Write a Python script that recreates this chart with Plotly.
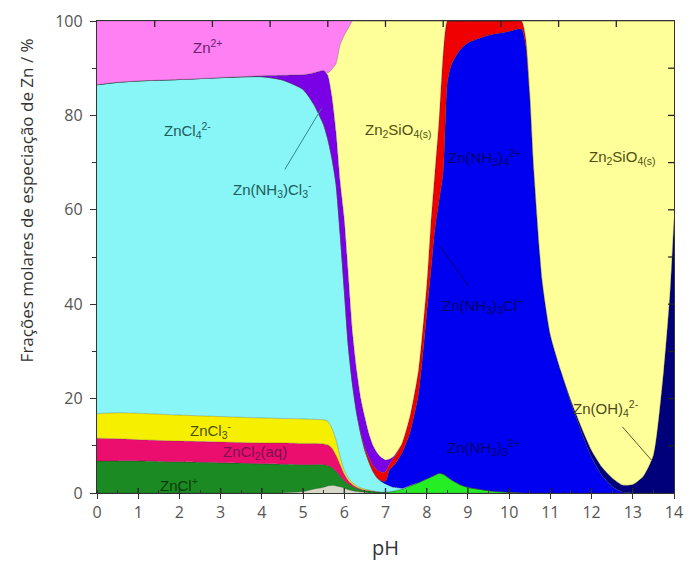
import plotly.graph_objects as go

# ---------------- data (molar fraction, %) ----------------
pH = [0, 0.5, 1, 2, 3, 4, 4.5, 5, 5.25, 5.5, 5.6, 5.7, 5.8, 5.9, 6.0, 6.1, 6.2, 6.3, 6.4, 6.5,
      6.6, 6.7, 6.8, 6.9, 7.0, 7.1, 7.2, 7.4, 7.6, 7.8, 8.0, 8.1, 8.2, 8.3, 8.4, 8.5, 8.6, 8.8, 9.0, 9.5,
      10.0, 10.3, 10.4, 10.5, 10.6, 10.8, 11.0, 11.25, 11.5, 11.75, 12.0, 12.25, 12.5, 12.75, 13.0,
      13.25, 13.5, 13.75, 13.9, 14.0]

ZnOH = [0, 0, 0, 0, 0, 0, 0, 0.3, 0.8, 1.2, 1.5, 1.6, 1.5, 1.3, 1.0, 0.7, 0.5, 0.3, 0.2, 0.1,
        0, 0, 0, 0, 0, 0, 0, 0, 0, 0, 0, 0, 0, 0, 0, 0, 0, 0, 0, 0,
        0, 0, 0, 0, 0, 0, 0, 0, 0, 0, 0, 0, 0, 0, 0, 0, 0, 0, 0, 0]
ZnCl = [6.8, 6.8, 6.8, 6.6, 6.4, 6.2, 6.1, 5.7, 5.2, 4.8, 4.3, 3.8, 3.1, 2.3, 1.6, 1.2, 0.9, 0.7, 0.5, 0.4,
        0.4, 0.3, 0.2, 0.15, 0.1, 0.05, 0, 0, 0, 0, 0, 0, 0, 0, 0, 0, 0, 0, 0, 0,
        0, 0, 0, 0, 0, 0, 0, 0, 0, 0, 0, 0, 0, 0, 0, 0, 0, 0, 0, 0]
ZnNH3_3 = [0, 0, 0, 0, 0, 0, 0, 0, 0, 0, 0, 0, 0, 0, 0, 0, 0, 0, 0, 0,
           0, 0, 0, 0.05, 0.1, 0.2, 0.4, 0.8, 1.5, 2.2, 3.0, 3.4, 3.8, 4.2, 4.0, 3.4, 2.8, 1.8, 1.2, 0.5,
           0.15, 0.05, 0, 0, 0, 0, 0, 0, 0, 0, 0, 0, 0, 0, 0, 0, 0, 0, 0, 0]
ZnCl2 = [4.8, 4.7, 4.5, 4.4, 4.4, 4.4, 4.5, 4.5, 4.5, 4.4, 4.4, 4.1, 3.4, 2.4, 1.4, 0.7, 0.4, 0.2, 0.15, 0.1,
         0.1, 0.05, 0.05, 0, 0, 0, 0, 0, 0, 0, 0, 0, 0, 0, 0, 0, 0, 0, 0, 0,
         0, 0, 0, 0, 0, 0, 0, 0, 0, 0, 0, 0, 0, 0, 0, 0, 0, 0, 0, 0]
ZnCl3 = [5.2, 5.5, 5.6, 5.5, 5.4, 5.3, 5.2, 5.2, 5.1, 5.1, 5.0, 4.2, 3.2, 1.6, 0.8, 0.5, 0.4, 0.3, 0.25, 0.2,
         0.15, 0.1, 0.05, 0, 0, 0, 0, 0, 0, 0, 0, 0, 0, 0, 0, 0, 0, 0, 0, 0,
         0, 0, 0, 0, 0, 0, 0, 0, 0, 0, 0, 0, 0, 0, 0, 0, 0, 0, 0, 0]
ZnCl4 = [69.7, 70.0, 70.4, 71.1, 71.8, 72.3, 71.7, 69.8, 66.9, 62.5, 59.8, 57.3, 54.3, 47.4, 38.2, 27.9, 20.8, 15.5, 11.4, 8.2,
         5.85, 4.05, 2.9, 2.2, 1.7, 1.25, 0.8, 0.2, 0.1, 0, 0, 0, 0, 0, 0, 0, 0, 0, 0, 0,
         0, 0, 0, 0, 0, 0, 0, 0, 0, 0, 0, 0, 0, 0, 0, 0, 0, 0, 0, 0]
ZnNH3_4 = [0, 0, 0, 0, 0, 0, 0, 0, 0, 0, 0, 0, 0, 0, 0, 0, 0, 0, 0, 0,
           0, 0, 0, 0.2, 0.6, 3.5, 4.6, 7.5, 11.4, 18.8, 35, 43.6, 52.2, 57.8, 64, 83.6, 88, 92, 94.2, 96.5,
           97.65, 98.25, 95, 84, 68, 45, 33.5, 26, 19.1, 13, 7.5, 3.7, 1.4, 0.2, 0, 0, 0, 0, 0, 0]
ZnOH4 = [0, 0, 0, 0, 0, 0, 0, 0, 0, 0, 0, 0, 0, 0, 0, 0, 0, 0, 0, 0,
         0, 0, 0, 0, 0, 0, 0, 0, 0, 0, 0, 0, 0, 0, 0, 0, 0, 0, 0, 0,
         0, 0, 0, 0, 0, 0, 0, 0, 0.5, 1.0, 1.5, 1.8, 1.8, 1.5, 1.8, 3.5, 8, 26, 42, 58]
ZnNH3_3Cl = [0, 0, 0, 0, 0, 0, 0, 0, 0, 0, 0, 0, 0, 0, 0, 0, 0, 0, 0.3, 0.6,
             1.0, 1.3, 1.6, 1.8, 2.0, 1.2, 1.6, 2.0, 3.5, 5, 6, 10, 12, 17, 25, 13, 9.2, 6.2, 4.6, 3.0,
             2.2, 1.7, 1.5, 0.8, 0.3, 0, 0, 0, 0, 0, 0, 0, 0, 0, 0, 0, 0, 0, 0, 0]
ZnNH3Cl3 = [0, 0, 0, 0, 0, 0.2, 1.0, 3.1, 6.5, 11.5, 13.5, 13.0, 11.0, 11, 15, 15, 11, 9, 7.2, 6.4,
            5.0, 4.2, 3.7, 3.1, 2.5, 1.0, 0.4, 0, 0, 0, 0, 0, 0, 0, 0, 0, 0, 0, 0, 0,
            0, 0, 0, 0, 0, 0, 0, 0, 0, 0, 0, 0, 0, 0, 0, 0, 0, 0, 0, 0]
Zn2SiO4 = [0, 0, 0, 0, 0, 0, 0, 0, 0, 0, 0.5, 5.8, 14.5, 29.0, 39, 52.5, 66, 74, 80, 84,
           87.5, 90, 91.5, 92.5, 93, 92.8, 92.2, 89.5, 83.5, 74, 56, 43, 32, 21, 7, 0, 0, 0, 0, 0,
           0, 0, 3.5, 15.2, 31.7, 55, 66.5, 74, 80.4, 86, 91, 94.5, 96.8, 98.3, 98.2, 96.5, 92, 74, 58, 42]
Zn2p = [13.5, 13.0, 12.7, 12.4, 12.0, 11.6, 11.5, 11.4, 11.0, 10.5, 11.0, 10.2, 9.0, 5.0, 3, 1.5, 0, 0, 0, 0,
        0, 0, 0, 0, 0, 0, 0, 0, 0, 0, 0, 0, 0, 0, 0, 0, 0, 0, 0, 0,
        0, 0, 0, 0, 0, 0, 0, 0, 0, 0, 0, 0, 0, 0, 0, 0, 0, 0, 0, 0]

x_ticks = list(range(0, 15))
y_ticks = [0, 20, 40, 60, 80, 100]
top_ticks = list(range(1, 10))       # auxiliary 0-10 scale marked on the top frame
right_ticks = list(range(10, 100, 10))

species = [
    ("ZnOH+", ZnOH, "#d8d8c8"),
    ("ZnCl+", ZnCl, "#1b8a22"),
    ("Zn(NH3)3 2+", ZnNH3_3, "#25ee25"),
    ("ZnCl2(aq)", ZnCl2, "#ec0e6e"),
    ("ZnCl3-", ZnCl3, "#f6f000"),
    ("ZnCl4 2-", ZnCl4, "#88f6f6"),
    ("Zn(NH3)4 2+", ZnNH3_4, "#0000f0"),
    ("Zn(OH)4 2-", ZnOH4, "#00007a"),
    ("Zn(NH3)3Cl+", ZnNH3_3Cl, "#f00000"),
    ("Zn(NH3)Cl3-", ZnNH3Cl3, "#7a00e6"),
    ("Zn2SiO4(s)", Zn2SiO4, "#ffff99"),
    ("Zn2+", Zn2p, "#ff80f2"),
]

W, H = 693, 561
ML, MR, MT, MB = 97, 10, 18, 68
PW, PH_ = W - ML - MR, H - MT - MB
XMAX, YMAX = 14, 100

fig = go.Figure()
for name, vals, col in species:
    fig.add_trace(go.Scatter(
        x=pH, y=vals, name=name, stackgroup="one", mode="lines",
        line=dict(width=0.6, color="rgba(40,40,40,0.45)", shape="spline", smoothing=0.6),
        fillcolor=col, hoverinfo="x+y+name"))

# inward frame ticks (top: auxiliary 0-10 scale, right: every 10 %, bottom: inner half of pH ticks)
tx, ty = [], []
dy_top = 6 / PH_ * YMAX
dx_right = 6 / PW * XMAX
for t in top_ticks:
    xp = t / 10 * XMAX
    tx += [xp, xp, None]
    ty += [YMAX, YMAX - dy_top, None]
for v in right_ticks:
    tx += [XMAX, XMAX - dx_right, None]
    ty += [v, v, None]
for t in x_ticks[1:-1]:
    tx += [t, t, None]
    ty += [0, 5 / PH_ * YMAX, None]
fig.add_trace(go.Scatter(x=tx, y=ty, mode="lines", line=dict(color="#222222", width=1.3),
                         hoverinfo="skip", showlegend=False, connectgaps=False))

lab_font = "Liberation Sans, Arial, sans-serif"
tick_font = dict(family="Open Sans, sans-serif", size=16, color="#555555")

fig.update_layout(
    width=W, height=H,
    margin=dict(l=ML, r=MR, t=MT, b=MB),
    paper_bgcolor="white", plot_bgcolor="white",
    showlegend=False,
    xaxis=dict(range=[0, XMAX], tickvals=x_ticks, ticks="outside", ticklen=5, tickwidth=1.2,
               tickcolor="#333", showline=True, linecolor="#333", linewidth=1.4, mirror=True,
               showgrid=False, zeroline=False, tickfont=tick_font,
               minor=dict(dtick=0.5, ticks="inside", ticklen=3, tickcolor="#333")),
    yaxis=dict(range=[0, YMAX], tickvals=y_ticks, ticks="outside", ticklen=6, tickwidth=1.2,
               tickcolor="#333", showline=True, linecolor="#333", linewidth=1.4, mirror=True,
               showgrid=False, zeroline=False, tickfont=tick_font, ticklabelstandoff=4,
               minor=dict(dtick=10, ticks="outside", ticklen=4, tickcolor="#333")),
)

def lab(x, y, text, color, size=15, **kw):
    fig.add_annotation(x=x, y=y, xref="x", yref="y", text=text, showarrow=False,
                       font=dict(family=lab_font, size=size, color=color), **kw)

def lab_arrow(x, y, ax, ay, text, color, lcolor, size=15):
    fig.add_annotation(x=x, y=y, ax=ax, ay=ay, xref="x", yref="y", axref="x", ayref="y",
                       text=text, showarrow=True, arrowhead=0, arrowwidth=1, arrowcolor=lcolor,
                       font=dict(family=lab_font, size=size, color=color), standoff=0,
                       startstandoff=9)

lab(2.7, 94.7, "Zn<sup>2+</sup>", "#6b1f6b")
lab(2.2, 76.8, "ZnCl<sub>4</sub><sup>2-</sup>", "#1d5c5c")
lab(7.3, 76.8, "Zn<sub>2</sub>SiO<sub>4(s)</sub>", "#4f4f10")
lab(12.75, 71.0, "Zn<sub>2</sub>SiO<sub>4(s)</sub>", "#4f4f10")
lab_arrow(5.45, 81.5, 4.27, 64.4, "Zn(NH<sub>3</sub>)Cl<sub>3</sub><sup>-</sup>", "#1d5c5c", "#2e8a8a")
lab(9.4, 71.0, "Zn(NH<sub>3</sub>)<sub>4</sub><sup>2+</sup>", "#00006e")
lab_arrow(8.3, 52.5, 9.35, 39.8, "Zn(NH<sub>3</sub>)<sub>3</sub>Cl<sup>+</sup>", "#00006e", "#00006e")
lab(9.38, 9.7, "Zn(NH<sub>3</sub>)<sub>3</sub><sup>2+</sup>", "#00006e")
lab(2.76, 13.3, "ZnCl<sub>3</sub><sup>-</sup>", "#4f4f00")
lab(3.84, 8.6, "ZnCl<sub>2</sub>(aq)", "#7a1050")
lab(2.0, 1.9, "ZnCl<sup>+</sup>", "#0b3b0b")
lab_arrow(13.45, 7.0, 12.35, 18.0, "Zn(OH)<sub>4</sub><sup>2-</sup>", "#4a4a20", "#5a5a30")

fig.add_annotation(x=-0.123, y=0.62, xref="paper", yref="paper", text="Frações molares de especiação de Zn / %",
                   textangle=-90, showarrow=False, xanchor="center", yanchor="middle",
                   font=dict(family="Open Sans, sans-serif", size=17, color="#333333"))
fig.add_annotation(x=0.5, y=-0.116, xref="paper", yref="paper", text="pH", showarrow=False,
                   xanchor="center", yanchor="middle",
                   font=dict(family="Open Sans, sans-serif", size=20, color="#333333"))

fig.write_html("out.html")
